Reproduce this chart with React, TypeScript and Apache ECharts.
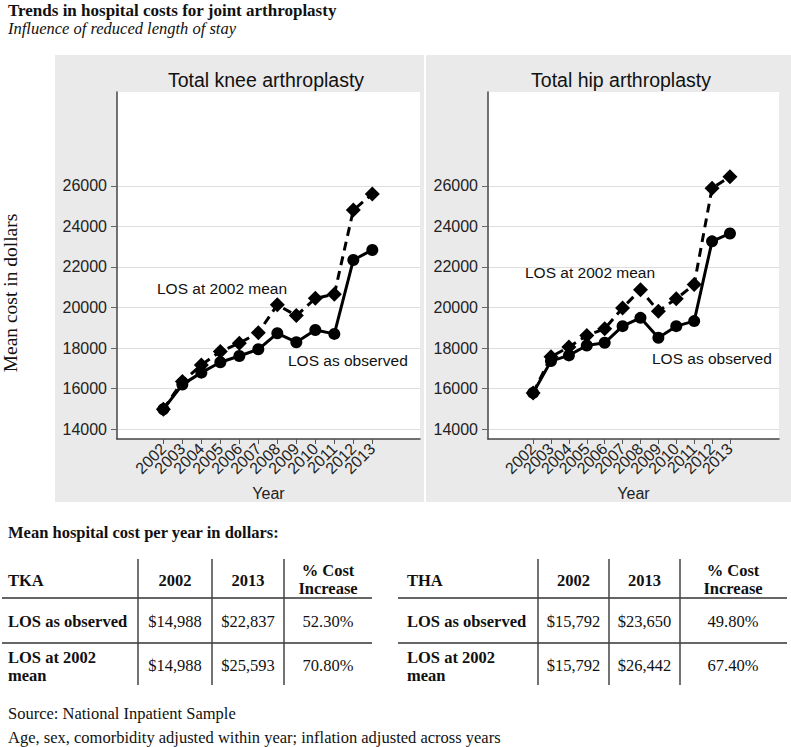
import React, { useEffect, useRef } from 'react';
import * as echarts from 'echarts';

const years = [2002, 2003, 2004, 2005, 2006, 2007, 2008, 2009, 2010, 2011, 2012, 2013];
const tkaObserved = [14988, 16200, 16790, 17300, 17610, 17940, 18730, 18290, 18890, 18700, 22340, 22837];
const tkaLos2002 = [14988, 16350, 17170, 17830, 18240, 18760, 20130, 19600, 20450, 20650, 24800, 25593];
const thaObserved = [15792, 17360, 17640, 18130, 18260, 19080, 19490, 18510, 19080, 19330, 23260, 23650];
const thaLos2002 = [15792, 17570, 18050, 18620, 18950, 19980, 20880, 19820, 20430, 21130, 25880, 26442];
const yTicks = [14000, 16000, 18000, 20000, 22000, 24000, 26000];
const panelTitles = ['Total knee arthroplasty', 'Total hip arthroplasty'];
const seriesLabels = ['LOS as observed', 'LOS at 2002 mean'];
const tableColumns = [['2002'], ['2013'], ['% Cost', 'Increase']];
const tkaRows = [
  [['LOS as observed'], '$14,988', '$22,837', '52.30%'],
  [['LOS at 2002', 'mean'], '$14,988', '$25,593', '70.80%'],
];
const thaRows = [
  [['LOS as observed'], '$15,792', '$23,650', '49.80%'],
  [['LOS at 2002', 'mean'], '$15,792', '$26,442', '67.40%'],
];

const SANS = '"Liberation Sans", Arial, Helvetica, sans-serif';
const SERIF = '"Liberation Serif", "Times New Roman", serif';

const GRIDS = [
  { left: 117, top: 92, width: 303, height: 347, xMin: 1999.56, xMax: 2015.51 },
  { left: 488, top: 92, width: 291, height: 347, xMin: 1999.48, xMax: 2015.74 },
];
const Y_MIN = 13520;
const Y_MAX = 30620;

export default function App() {
  const ref = useRef<HTMLDivElement>(null);
  useEffect(() => {
    document.body.style.margin = '0';
    if (!ref.current) return;
    const chart = echarts.init(ref.current, null, { renderer: 'svg' });

    const pairs = (vals: number[]) => years.map((y, i) => [y, vals[i]]);

    const labelGrids = GRIDS.map((g) => {
      const ppy = g.width / (g.xMax - g.xMin);
      const first = years[0] - 0.5;
      return {
        left: g.left + (first - g.xMin) * ppy,
        top: g.top,
        width: years.length * ppy,
        height: g.height,
      };
    });

    const xAxes: any[] = GRIDS.map((g, i) => ({
      type: 'value',
      gridIndex: i,
      min: g.xMin,
      max: g.xMax,
      name: 'Year',
      nameLocation: 'middle',
      nameGap: 46,
      nameTextStyle: { fontFamily: SANS, fontSize: 16, color: '#222' },
      axisLine: { show: true, lineStyle: { color: '#444', width: 1.5 } },
      axisTick: { show: true, length: 5, customValues: years, lineStyle: { color: '#555' } },
      axisLabel: { show: false },
      splitLine: { show: false },
    }));
    labelGrids.forEach((_, i) => {
      xAxes.push({
        type: 'category',
        gridIndex: 2 + i,
        data: years.map(String),
        boundaryGap: true,
        axisLine: { show: false },
        axisTick: { show: false },
        splitLine: { show: false },
        axisLabel: {
          interval: 0,
          rotate: 45,
          margin: 7,
          fontFamily: SANS,
          fontSize: 16,
          color: '#222',
        },
      });
    });

    const yAxes: any[] = GRIDS.map((g, i) => ({
      type: 'value',
      gridIndex: i,
      min: Y_MIN,
      max: Y_MAX,
      axisLine: { show: true, lineStyle: { color: '#444', width: 1.5 } },
      axisTick: { show: true, length: 6, customValues: yTicks, lineStyle: { color: '#666' } },
      axisLabel: {
        customValues: yTicks,
        margin: 10,
        showMinLabel: true,
        showMaxLabel: true,
        fontFamily: SANS,
        fontSize: 16,
        color: '#222',
        formatter: (v: number) => String(Math.round(v)),
      },
      splitLine: { show: true, lineStyle: { color: '#dedede', width: 1 } },
    }));
    labelGrids.forEach((_, i) => {
      yAxes.push({
        type: 'value',
        gridIndex: 2 + i,
        show: false,
        min: Y_MIN,
        max: Y_MAX,
        splitLine: { show: false },
      });
    });

    const mk = (vals: number[], idx: number, dashed: boolean) => ({
      type: 'line',
      name: dashed ? seriesLabels[1] : seriesLabels[0],
      xAxisIndex: idx,
      yAxisIndex: idx,
      data: pairs(vals),
      symbol: dashed ? 'diamond' : 'circle',
      symbolSize: dashed ? 15 : 12,
      showAllSymbol: true,
      itemStyle: { color: '#000' },
      lineStyle: { color: '#000', width: 3, type: dashed ? [9, 6] : 'solid' },
      z: dashed ? 2 : 3,
    });

    const graphics: any[] = [];
    graphics.push({ type: 'rect', z: -20, shape: { x: 55, y: 55, width: 369, height: 447 }, style: { fill: '#eaeaea' } });
    graphics.push({ type: 'rect', z: -20, shape: { x: 426, y: 55, width: 365, height: 447 }, style: { fill: '#eaeaea' } });
    GRIDS.forEach((g) => {
      graphics.push({ type: 'rect', z: -15, shape: { x: g.left, y: g.top, width: g.width, height: g.height }, style: { fill: '#fff' } });
    });
    const txt = (text: string, x: number, y: number, opts: any = {}) => ({
      type: 'text',
      x,
      y,
      rotation: opts.rotation || 0,
      style: {
        text,
        fontFamily: opts.family || SERIF,
        fontSize: opts.size || 16.5,
        fontWeight: opts.weight || 'normal',
        fontStyle: opts.style || 'normal',
        fill: opts.fill || '#111',
        textAlign: opts.align || 'left',
        textVerticalAlign: 'middle',
      },
    });
    graphics.push(txt('Trends in hospital costs for joint arthroplasty', 8, 10.5, { weight: 'bold', size: 17 }));
    graphics.push(txt('Influence of reduced length of stay', 8, 28.5, { style: 'italic', size: 16.5 }));
    graphics.push(txt(panelTitles[0], 266, 80, { family: SANS, size: 19.5, align: 'center' }));
    graphics.push(txt(panelTitles[1], 621, 80, { family: SANS, size: 19.5, align: 'center' }));
    graphics.push(txt('Mean cost in dollars', 10.5, 293, { size: 19.5, align: 'center', rotation: Math.PI / 2 }));
    graphics.push(txt(seriesLabels[1], 157, 288, { family: SANS, size: 15.5 }));
    graphics.push(txt(seriesLabels[0], 288, 360, { family: SANS, size: 15.5 }));
    graphics.push(txt(seriesLabels[1], 525, 272, { family: SANS, size: 15.5 }));
    graphics.push(txt(seriesLabels[0], 652, 358, { family: SANS, size: 15.5 }));

    graphics.push(txt('Mean hospital cost per year in dollars:', 8, 532, { weight: 'bold' }));

    const drawTable = (label: string, rows: any[][], x0: number, lineX0: number, lineX1: number, vlines: number[], centers: number[]) => {
      graphics.push(txt(label, x0, 580, { weight: 'bold' }));
      tableColumns.forEach((c, i) => {
        if (c.length === 1) {
          graphics.push(txt(c[0], centers[i], 580, { weight: 'bold', align: 'center' }));
        } else {
          graphics.push(txt(c[0], centers[i], 570, { weight: 'bold', align: 'center' }));
          graphics.push(txt(c[1], centers[i], 588, { weight: 'bold', align: 'center' }));
        }
      });
      [598, 643].forEach((y) => {
        graphics.push({ type: 'line', shape: { x1: lineX0, y1: y, x2: lineX1, y2: y }, style: { stroke: '#333', lineWidth: 1.5 } });
      });
      vlines.forEach((x) => {
        graphics.push({ type: 'line', shape: { x1: x, y1: 559, x2: x, y2: 685 }, style: { stroke: '#444', lineWidth: 1.5 } });
      });
      const rowY = [621, 665];
      rows.forEach((r, ri) => {
        const lab = r[0] as string[];
        if (lab.length === 1) {
          graphics.push(txt(lab[0], x0, rowY[ri], { weight: 'bold' }));
        } else {
          graphics.push(txt(lab[0], x0, 657.5, { weight: 'bold' }));
          graphics.push(txt(lab[1], x0, 675.5, { weight: 'bold' }));
        }
        r.slice(1).forEach((v, ci) => {
          graphics.push(txt(v as string, centers[ci], rowY[ri], { align: 'center' }));
        });
      });
    };
    drawTable('TKA', tkaRows, 8, 2, 372, [138, 212, 284], [175, 248, 328]);
    drawTable('THA', thaRows, 407, 398, 787, [538, 609, 680], [573.5, 644.5, 733]);

    graphics.push(txt('Source: National Inpatient Sample', 8, 713));
    graphics.push(txt('Age, sex, comorbidity adjusted within year; inflation adjusted across years', 8, 737));

    chart.setOption({
      animation: false,
      backgroundColor: '#fff',
      grid: [
        ...GRIDS.map((g) => ({ left: g.left, top: g.top, width: g.width, height: g.height, containLabel: false })),
        ...labelGrids.map((g) => ({ left: g.left, top: g.top, width: g.width, height: g.height, containLabel: false })),
      ],
      xAxis: xAxes,
      yAxis: yAxes,
      series: [
        mk(tkaLos2002, 0, true),
        mk(tkaObserved, 0, false),
        mk(thaLos2002, 1, true),
        mk(thaObserved, 1, false),
      ],
      graphic: graphics,
    });
    return () => chart.dispose();
  }, []);
  return <div ref={ref} style={{ width: 791, height: 747 }} />;
}
